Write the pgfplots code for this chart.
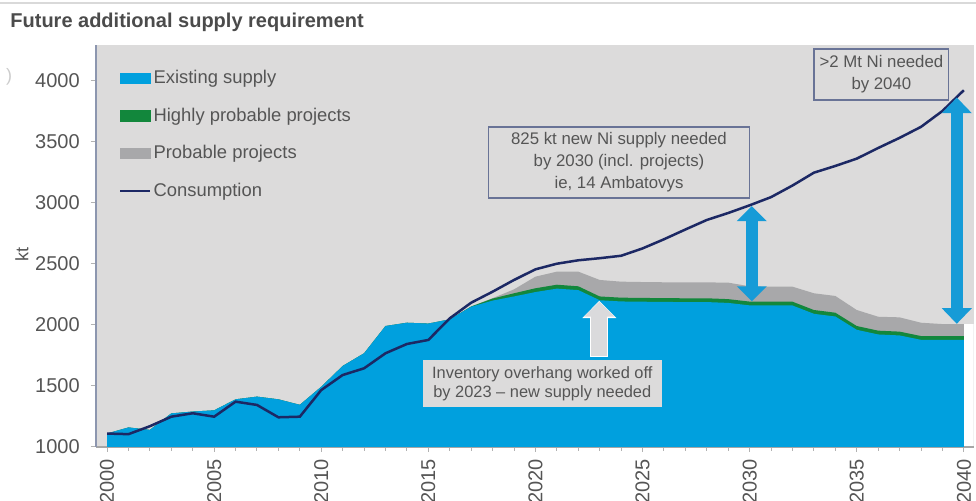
\documentclass[border=0pt]{standalone}
\usepackage{fontspec}
\setmainfont{Liberation Sans}
\usepackage{pgfplots}
\pgfplotsset{compat=1.18}
\usepackage{pgfplotstable}
\usetikzlibrary{arrows.meta}

\definecolor{bggray}{RGB}{220,219,219}
\definecolor{exblue}{RGB}{0,160,222}
\definecolor{arrblue}{RGB}{22,155,215}
\definecolor{hpgreen}{RGB}{18,135,60}
\definecolor{prgray}{RGB}{168,168,170}
\definecolor{consnavy}{RGB}{28,40,100}
\definecolor{txtgray}{RGB}{85,85,85}
\definecolor{titlegray}{RGB}{75,75,75}
\definecolor{boxedge}{RGB}{105,115,150}
\definecolor{axisblue}{RGB}{140,150,175}
\definecolor{arrgray}{RGB}{218,218,220}

\pgfplotstableread{
year existing highly total consumption
2000 1110 1110 1110 1110
2001 1160 1160 1160 1105
2002 1140 1140 1140 1170
2003 1275 1275 1275 1248
2004 1290 1290 1290 1276
2005 1300 1300 1300 1248
2006 1390 1390 1390 1371
2007 1412 1412 1412 1344
2008 1390 1390 1390 1243
2009 1345 1345 1345 1248
2010 1493 1493 1493 1466
2011 1663 1663 1663 1589
2012 1767 1767 1767 1644
2013 1990 1990 1990 1767
2014 2017 2017 2017 1843
2015 2010 2010 2010 1876
2016 2045 2045 2045 2053
2017 2148 2150 2150 2181
2018 2198 2215 2218 2271
2019 2232 2258 2290 2367
2020 2268 2299 2394 2454
2021 2296 2328 2435 2500
2022 2284 2315 2435 2528
2023 2201 2232 2367 2545
2024 2191 2222 2353 2565
2025 2189 2220 2350 2625
2026 2187 2218 2348 2700
2027 2186 2217 2348 2780
2028 2186 2217 2347 2858
2029 2179 2210 2345 2915
2030 2159 2190 2315 2978
2031 2158 2189 2312 3045
2032 2158 2189 2312 3140
2033 2090 2121 2258 3245
2034 2068 2099 2236 3300
2035 1959 1990 2121 3360
2036 1921 1952 2066 3447
2037 1913 1944 2061 3530
2038 1877 1908 2017 3620
2039 1877 1908 2006 3750
2040 1877 1908 2006 3920
}\data

\begin{document}
\begin{tikzpicture}
\path[use as bounding box] (0,0) rectangle (488pt,250.5pt);
\draw[gray!30, line width=1pt] (0,249pt) -- (488pt,249pt);
\node[anchor=base west, font=\bfseries\fontsize{10}{12}\selectfont, text=titlegray, inner sep=0pt] at (5pt,236.5pt) {Future additional supply requirement};
\node[anchor=center, font=\fontsize{9}{10}\selectfont, text=gray!40, inner sep=0pt] at (4.5pt,212pt) {)};
\begin{axis}[
  at={(47.85pt,27pt)}, anchor=south west,
  scale only axis, width=438.9pt, height=201pt,
  xmin=1999.47, xmax=2040.45, ymin=1000, ymax=4290,
  axis background/.style={fill=bggray},
  axis x line*=bottom, axis y line*=left,
  x axis line style={draw=gray!70, line width=0.7pt},
  y axis line style={draw=axisblue, line width=0.9pt},
  xtick={2000,2005,...,2040},
  minor x tick num=4,
  ytick={1000,1500,...,4000},
  tick align=outside,
  major tick length=2.5pt, minor tick length=2pt,
  every tick/.style={draw=gray!60, line width=0.5pt},
  /pgf/number format/1000 sep={},
  /pgf/number format/assume math mode=true,
  xticklabel style={rotate=90, anchor=east, font=\fontsize{10}{12}\selectfont, text=txtgray},
  yticklabel style={font=\fontsize{10}{12}\selectfont, text=txtgray, xshift=-2pt},
  ylabel={kt},
  ylabel style={at={(axis description cs:-0.084,0.478)}, anchor=center, font=\fontsize{9}{11}\selectfont, text=txtgray},
  legend style={at={(0.0197,0.948)}, anchor=north west, draw=none, fill=none,
    font=\fontsize{9.2}{11}\selectfont, text=txtgray, row sep=10.6pt,
    nodes={inner xsep=1pt, inner ysep=0pt}},
  legend cell align=left,
]
\addlegendimage{legend image code/.code={\fill[exblue] (0pt,-2.6pt) rectangle (15pt,2.6pt);}}
\addlegendentry{Existing supply}
\addlegendimage{legend image code/.code={\fill[hpgreen] (0pt,-2.6pt) rectangle (15pt,2.6pt);}}
\addlegendentry{Highly probable projects}
\addlegendimage{legend image code/.code={\fill[prgray] (0pt,-2.6pt) rectangle (15pt,2.6pt);}}
\addlegendentry{Probable projects}
\addlegendimage{legend image code/.code={\draw[consnavy, line width=1.1pt] (0pt,0pt) -- (15pt,0pt);}}
\addlegendentry{Consumption}

\addplot[fill=prgray, draw=none, forget plot] table[x=year, y=total] {\data} \closedcycle;
\addplot[fill=hpgreen, draw=none, forget plot] table[x=year, y=highly] {\data} \closedcycle;
\addplot[fill=exblue, draw=none, forget plot] table[x=year, y=existing] {\data} \closedcycle;
\addplot[consnavy, line width=1.25pt, forget plot] table[x=year, y=consumption] {\data};

% white strip right of the last year
\fill[white] (axis cs:2040,1010) rectangle (axis cs:2040.45,2004);

% annotation boxes
\draw[boxedge, fill=bggray, line width=0.6pt] (axis cs:2017.81,3038) rectangle (axis cs:2029.98,3619);
\node[align=center, font=\fontsize{8.4}{11}\selectfont, text=txtgray] at (axis cs:2023.9,3328) {825 kt new Ni supply needed\\by 2030 (incl. projects)\\ie, 14 Ambatovys};
\draw[boxedge, fill=bggray, line width=0.6pt] (axis cs:2033.0,3840) rectangle (axis cs:2039.3,4257);
\node[align=center, font=\fontsize{8.4}{11}\selectfont, text=txtgray] at (axis cs:2036.15,4048) {>2 Mt Ni needed\\by 2040};
\fill[bggray] (axis cs:2014.73,1327) rectangle (axis cs:2025.92,1712);
\node[align=center, font=\fontsize{8.2}{9.4}\selectfont, text=txtgray] at (axis cs:2020.32,1520) {Inventory overhang worked off\\by 2023 -- new supply needed};

% arrows
\draw[white, line width=9.2pt, -{Triangle[width=16.5pt,length=8.6pt]}] (axis cs:2022.98,1740) -- (axis cs:2022.98,2196);
\draw[arrgray, line width=8pt, -{Triangle[width=15pt,length=7.5pt]}] (axis cs:2022.98,1745) -- (axis cs:2022.98,2189);
\draw[arrblue, line width=6pt, {Triangle[width=14.5pt,length=7.5pt]}-{Triangle[width=14.5pt,length=7.5pt]}] (axis cs:2030.1,2192) -- (axis cs:2030.1,2972);
\draw[arrblue, line width=5.8pt, {Triangle[width=14.5pt,length=7.8pt]}-{Triangle[width=14.5pt,length=7.8pt]}] (axis cs:2039.67,2008) -- (axis cs:2039.67,3860);
\end{axis}
\end{tikzpicture}
\end{document}
